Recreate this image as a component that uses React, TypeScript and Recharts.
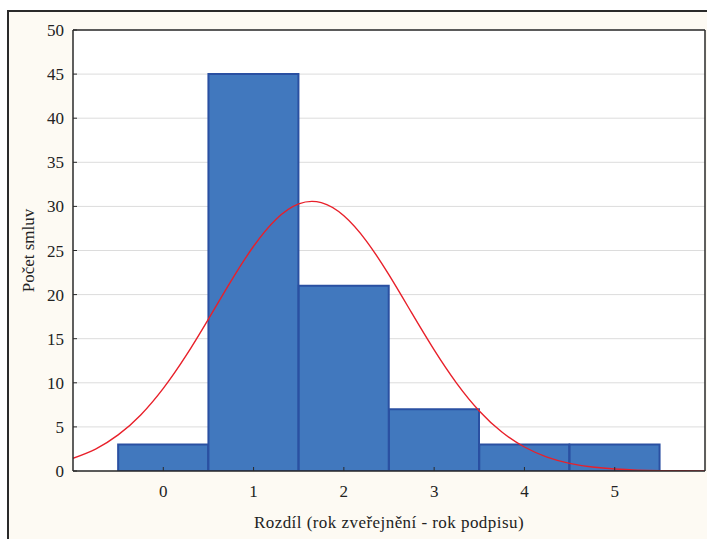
import React from "react";
import {
  ComposedChart,
  Bar,
  Line,
  XAxis,
  YAxis,
  CartesianGrid,
  Label,
} from "recharts";

// Histogram categories and counts
const categories: number[] = [0, 1, 2, 3, 4, 5];
const counts: number[] = [3, 45, 21, 7, 3, 3];

// Fitted normal curve
const curveX: number[] = [
  -1, -0.75, -0.5, -0.25, 0, 0.25, 0.5, 0.75, 1, 1.25, 1.5, 1.75, 2, 2.25,
  2.5, 2.75, 3, 3.25, 3.5, 3.75, 4, 4.25, 4.5, 4.75, 5, 5.25, 5.5, 5.75, 6,
];
const curveY: number[] = [
  1.44, 2.49, 4.09, 6.36, 9.37, 13.05, 17.23, 21.53, 25.48, 28.55, 30.29,
  30.43, 28.94, 26.07, 22.23, 17.95, 13.73, 9.94, 6.81, 4.42, 2.72, 1.58,
  0.87, 0.45, 0.22, 0.1, 0.045, 0.02, 0.01,
];

const yTicks: number[] = [0, 5, 10, 15, 20, 25, 30, 35, 40, 45, 50];
const xTicks: number[] = [0, 1, 2, 3, 4, 5];
const xTitle = "Rozdíl (rok zveřejnění - rok podpisu)";
const yTitle = "Počet smluv";

const barData = categories.map((c, i) => ({ x: c, count: counts[i] }));
const curveData = curveX.map((x, i) => ({ cx: x, fit: curveY[i] }));

const FONT = "'Liberation Serif', 'Times New Roman', serif";
const AXIS = "#2a2a2a";

export default function App() {
  return (
    <div
      style={{
        position: "fixed",
        left: 0,
        top: 0,
        width: 707,
        height: 539,
        overflow: "hidden",
        background: "#ffffff",
      }}
    >
      <div
        style={{
          position: "absolute",
          left: 7,
          top: 10,
          width: 760,
          height: 600,
          borderLeft: `2px solid ${AXIS}`,
          borderTop: `2px solid ${AXIS}`,
          background: "#FDFAF3",
        }}
      />
      <div style={{ position: "absolute", left: 0, top: 0 }}>
        <ComposedChart
          width={707}
          height={539}
          data={barData}
          margin={{ top: 29, right: 1, bottom: 28, left: 8 }}
          barCategoryGap={0}
          barGap={0}
          style={{ fontFamily: FONT }}
        >
          <CartesianGrid
            vertical={false}
            stroke="#dcdcdc"
            strokeWidth={1}
            fill="#ffffff"
            yAxisId="left"
            xAxisId="bottom"
          />
          <XAxis
            xAxisId="bottom"
            dataKey="x"
            type="number"
            domain={[-1, 6]}
            ticks={xTicks}
            allowDataOverflow
            height={40}
            tickSize={-4}
            tickMargin={18}
            axisLine={{ stroke: AXIS, strokeWidth: 1.5 }}
            tickLine={{ stroke: AXIS }}
            tick={{ fill: "#222", fontSize: 17, fontFamily: FONT }}
          >
            <Label
              content={(props: any) => {
                const vb = props.viewBox || {};
                return (
                  <text
                    x={vb.x + vb.width / 2}
                    y={vb.y + 57}
                    textAnchor="middle"
                    fill="#222"
                    fontSize={17}
                    letterSpacing={0.45}
                    fontFamily={FONT}
                  >
                    {xTitle}
                  </text>
                );
              }}
            />
          </XAxis>
          <XAxis
            xAxisId="curve"
            dataKey="cx"
            type="number"
            domain={[-1, 6]}
            allowDataOverflow
            hide
          />
          <XAxis
            xAxisId="top"
            dataKey="x"
            type="number"
            orientation="top"
            domain={[-1, 6]}
            ticks={xTicks}
            allowDataOverflow
            height={1}
            tickSize={-4}
            tick={false}
            axisLine={{ stroke: AXIS, strokeWidth: 1.5 }}
            tickLine={{ stroke: AXIS }}
          />
          <YAxis
            yAxisId="left"
            type="number"
            domain={[0, 50]}
            ticks={yTicks}
            allowDataOverflow
            width={65}
            tickSize={-4}
            tickMargin={13}
            axisLine={{ stroke: AXIS, strokeWidth: 1.5 }}
            tickLine={{ stroke: AXIS }}
            tick={{ fill: "#222", fontSize: 17, fontFamily: FONT }}
          >
            <Label
              content={(props: any) => {
                const vb = props.viewBox || {};
                const cx = vb.x + 20;
                const cy = vb.y + vb.height / 2;
                return (
                  <text
                    x={cx}
                    y={cy}
                    transform={`rotate(-90 ${cx} ${cy})`}
                    textAnchor="middle"
                    dominantBaseline="central"
                    fill="#222"
                    fontSize={17}
                    fontFamily={FONT}
                  >
                    {yTitle}
                  </text>
                );
              }}
            />
          </YAxis>
          <YAxis
            yAxisId="right"
            orientation="right"
            type="number"
            domain={[0, 50]}
            ticks={yTicks}
            allowDataOverflow
            width={1}
            tickSize={-4}
            tick={false}
            axisLine={{ stroke: AXIS, strokeWidth: 1.5 }}
            tickLine={{ stroke: AXIS }}
          />
          <Bar
            xAxisId="bottom"
            yAxisId="left"
            dataKey="count"
            fill="#4178BE"
            stroke="#2A50A2"
            strokeWidth={2}
            isAnimationActive={false}
          />
          <Line
            xAxisId="curve"
            yAxisId="left"
            data={curveData}
            dataKey="fit"
            type="natural"
            stroke="#E8202A"
            strokeWidth={1.4}
            dot={false}
            activeDot={false}
            isAnimationActive={false}
          />
        </ComposedChart>
      </div>
    </div>
  );
}
